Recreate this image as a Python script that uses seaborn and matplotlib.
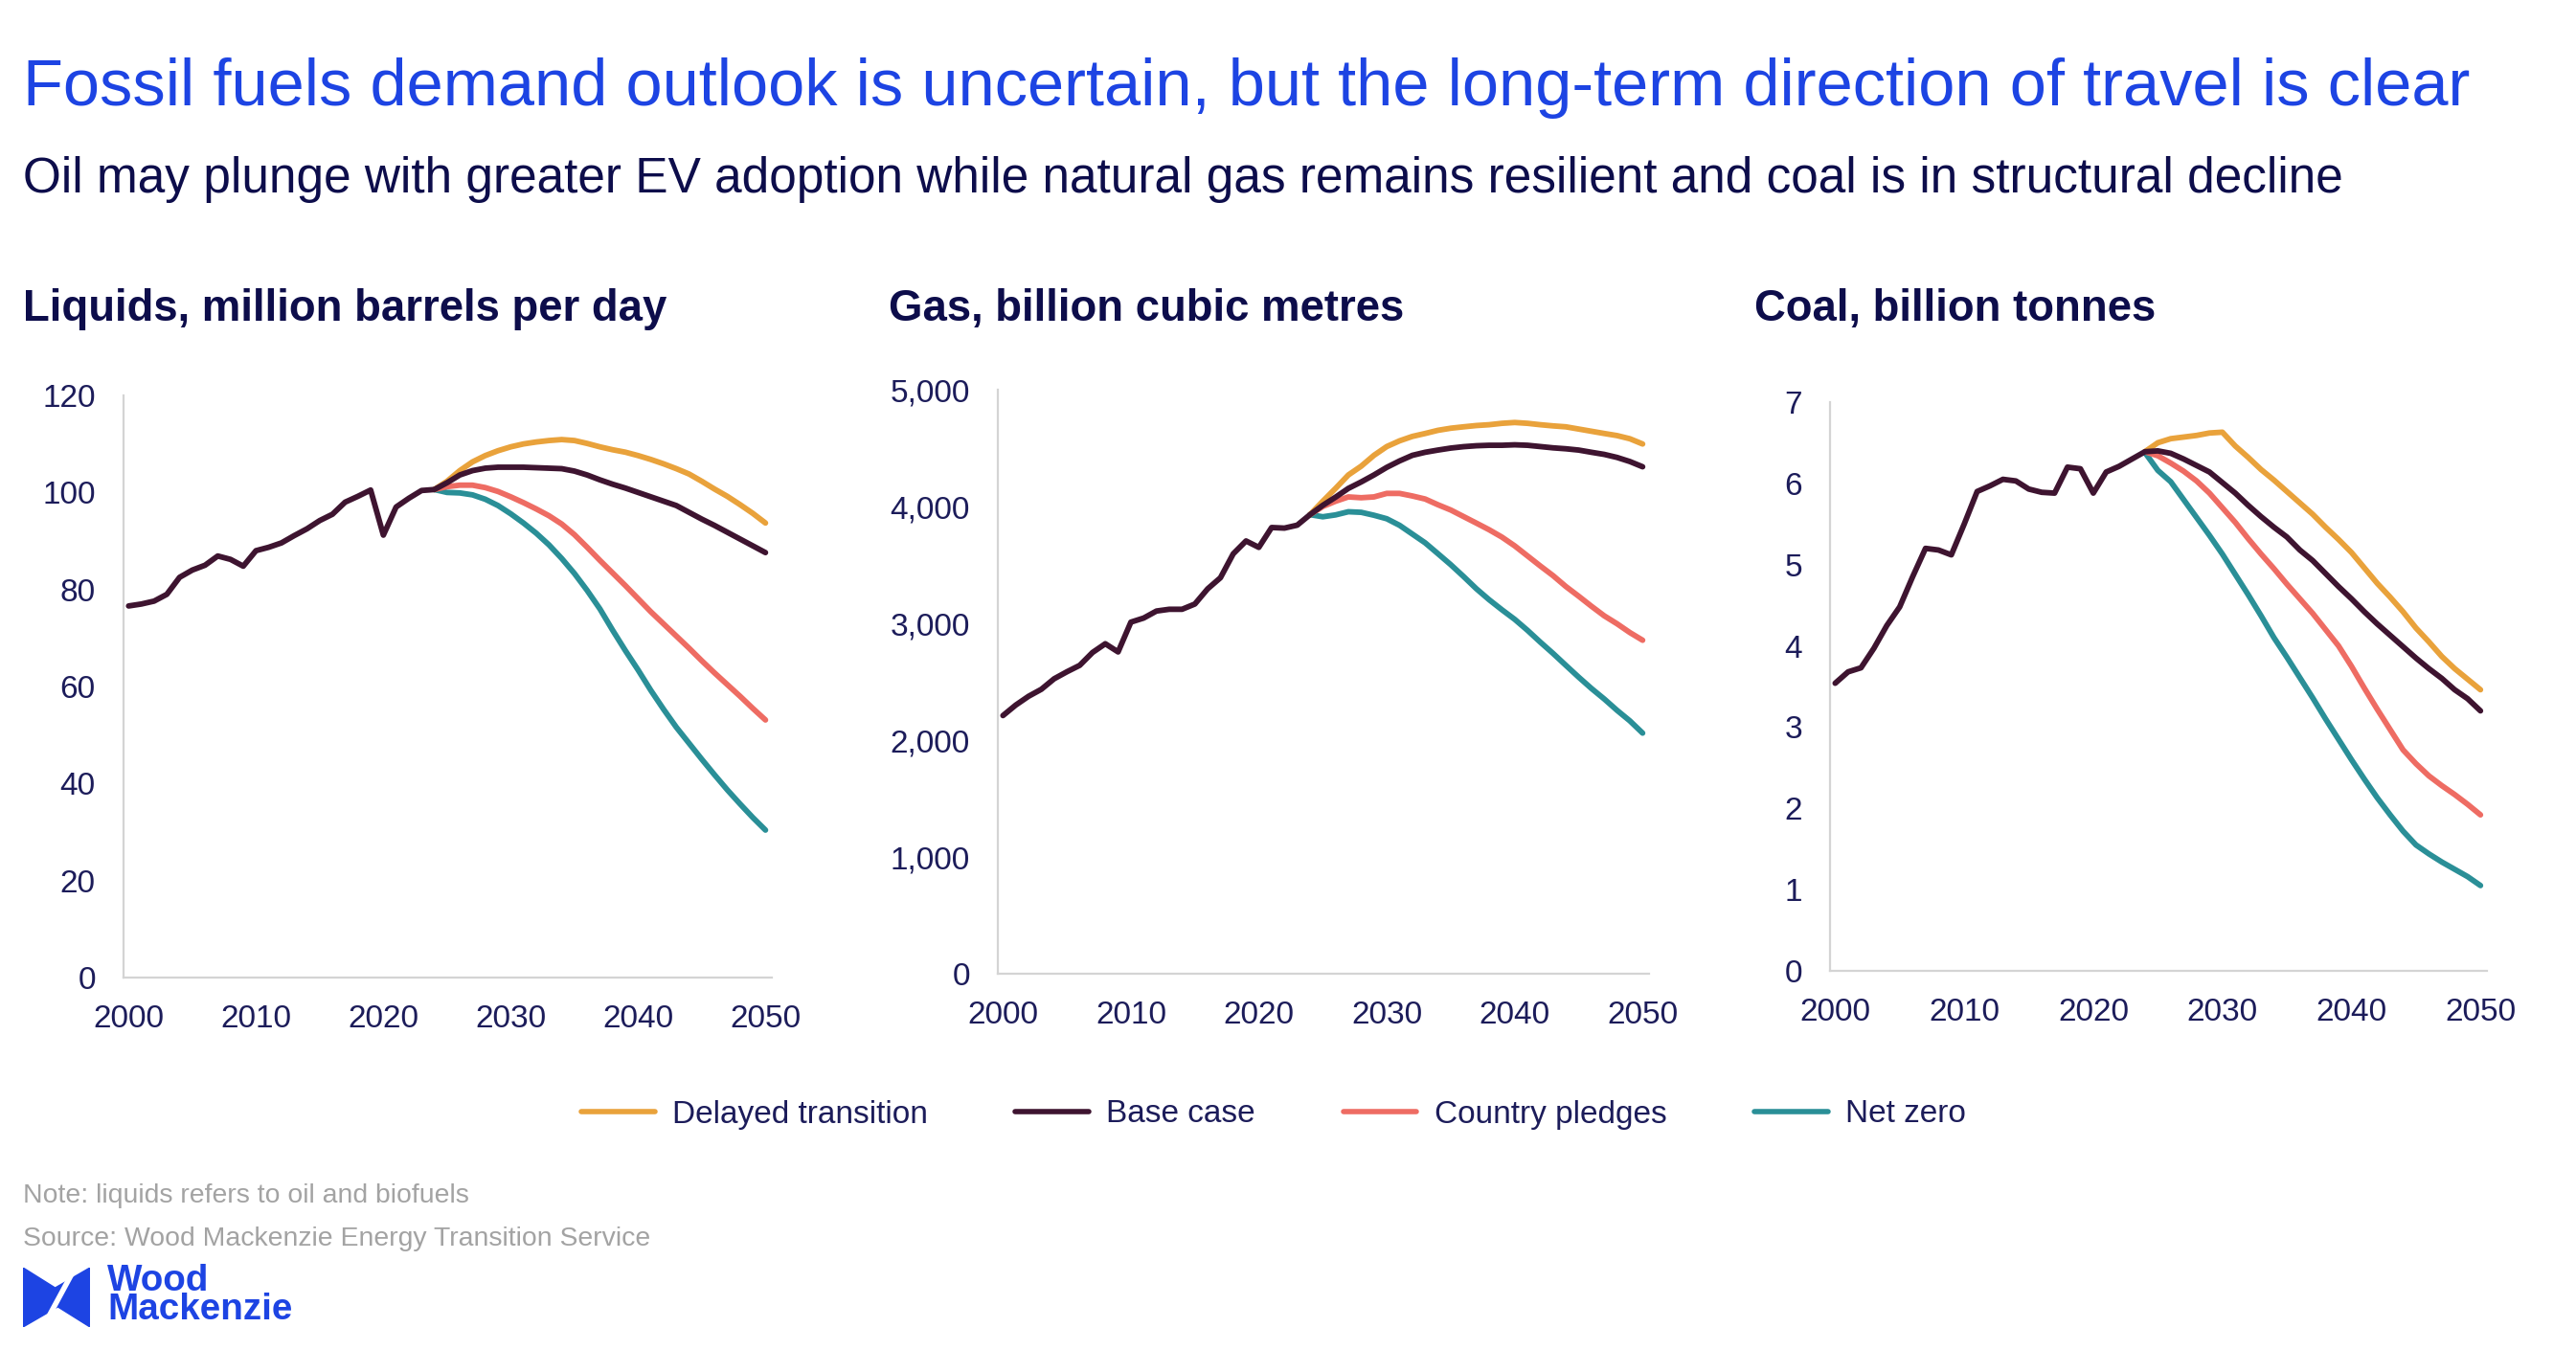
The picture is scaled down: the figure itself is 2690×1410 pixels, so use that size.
import numpy as np
import pandas as pd
import matplotlib
matplotlib.use("Agg")
import matplotlib.pyplot as plt
import seaborn as sns
from matplotlib.lines import Line2D
from matplotlib.patches import Polygon
from matplotlib.ticker import FuncFormatter

# ---------------- data ----------------
years_all = list(range(2000, 2051))
years_proj = list(range(2024, 2051))

scenarios = ["Delayed transition", "Base case", "Country pledges", "Net zero"]
colors = ["#E9A23B", "#3E1430", "#EE6C63", "#2A8F97"]

liq_base = [76.6, 77.0, 77.6, 79.0, 82.5, 84.0, 85.0, 86.9, 86.2, 84.8,
            88.0, 88.7, 89.6, 91.1, 92.5, 94.2, 95.5, 98.0, 99.2, 100.5,
            91.2, 97.0, 98.8, 100.4, 100.6, 102.0, 103.6, 104.5, 105.0, 105.2,
            105.2, 105.2, 105.1, 105.0, 104.9, 104.4, 103.6, 102.6, 101.7, 100.9,
            100.0, 99.1, 98.2, 97.3, 95.9, 94.5, 93.2, 91.8, 90.4, 89.0, 87.6]
liq_delayed = [100.6, 102.3, 104.5, 106.3, 107.6, 108.6, 109.4, 110.0, 110.4, 110.7,
               110.9, 110.7, 110.1, 109.4, 108.8, 108.3, 107.6, 106.8, 105.9, 104.9,
               103.8, 102.3, 100.7, 99.2, 97.5, 95.7, 93.7]
liq_pledges = [100.6, 101.2, 101.5, 101.5, 101.0, 100.2, 99.1, 97.9, 96.6, 95.2,
               93.5, 91.3, 88.7, 86.0, 83.4, 80.8, 78.1, 75.4, 72.9, 70.4,
               67.9, 65.3, 62.8, 60.4, 58.0, 55.5, 53.1]
liq_netzero = [100.6, 100.0, 99.9, 99.5, 98.6, 97.3, 95.6, 93.7, 91.6, 89.2,
               86.4, 83.3, 79.8, 76.0, 71.6, 67.4, 63.4, 59.2, 55.3, 51.6,
               48.3, 45.0, 41.8, 38.7, 35.8, 33.0, 30.4]

gas_base = [2210, 2300, 2375, 2435, 2525, 2585, 2640, 2750, 2825, 2755,
            3010, 3045, 3105, 3120, 3120, 3165, 3295, 3390, 3595, 3705,
            3650, 3820, 3815, 3840, 3930, 4010, 4080, 4155, 4210, 4270,
            4335, 4390, 4438, 4464, 4483, 4500, 4512, 4520, 4524, 4524,
            4528, 4524, 4513, 4502, 4494, 4483, 4464, 4446, 4420, 4385, 4340]
gas_delayed = [3930, 4045, 4155, 4270, 4345, 4438, 4513, 4562, 4600, 4625,
               4652, 4670, 4682, 4693, 4700, 4712, 4719, 4712, 4700, 4690,
               4682, 4663, 4644, 4625, 4607, 4580, 4535]
gas_pledges = [3930, 4000, 4045, 4082, 4075, 4082, 4112, 4112, 4090, 4064,
               4015, 3970, 3914, 3858, 3801, 3738, 3663, 3577, 3491, 3408,
               3315, 3232, 3146, 3064, 2996, 2921, 2855]
gas_netzero = [3930, 3912, 3928, 3955, 3950, 3925, 3895, 3839, 3764, 3689,
               3596, 3502, 3401, 3296, 3202, 3116, 3034, 2940, 2839, 2742,
               2640, 2539, 2442, 2352, 2255, 2165, 2060]

coal_base = [3.54, 3.68, 3.73, 3.97, 4.25, 4.48, 4.85, 5.20, 5.18, 5.12,
             5.50, 5.90, 5.97, 6.05, 6.03, 5.93, 5.89, 5.88, 6.20, 6.18,
             5.88, 6.14, 6.21, 6.30, 6.39, 6.40, 6.37, 6.30, 6.22, 6.14,
             6.01, 5.88, 5.73, 5.59, 5.46, 5.34, 5.18, 5.05, 4.89, 4.73,
             4.58, 4.42, 4.27, 4.13, 3.99, 3.85, 3.72, 3.60, 3.46, 3.35, 3.20]
coal_delayed = [6.39, 6.50, 6.55, 6.57, 6.59, 6.62, 6.63, 6.46, 6.32, 6.17,
                6.04, 5.90, 5.76, 5.62, 5.46, 5.31, 5.15, 4.96, 4.77, 4.60,
                4.42, 4.22, 4.05, 3.87, 3.72, 3.59, 3.46]
coal_pledges = [6.39, 6.34, 6.25, 6.15, 6.03, 5.88, 5.70, 5.52, 5.32, 5.13,
                4.95, 4.76, 4.58, 4.40, 4.20, 4.00, 3.75, 3.48, 3.22, 2.97,
                2.72, 2.55, 2.40, 2.28, 2.17, 2.05, 1.92]
coal_netzero = [6.38, 6.16, 6.02, 5.80, 5.58, 5.36, 5.13, 4.88, 4.63, 4.37,
                4.10, 3.86, 3.61, 3.36, 3.10, 2.85, 2.60, 2.36, 2.13, 1.92,
                1.72, 1.55, 1.44, 1.34, 1.25, 1.16, 1.05]

panel_titles = ["Liquids, million barrels per day", "Gas, billion cubic metres",
                "Coal, billion tonnes"]
y_ticks = [[0, 20, 40, 60, 80, 100, 120],
           [0, 1000, 2000, 3000, 4000, 5000],
           [0, 1, 2, 3, 4, 5, 6, 7]]
x_ticks = [2000, 2010, 2020, 2030, 2040, 2050]

title = "Fossil fuels demand outlook is uncertain, but the long-term direction of travel is clear"
subtitle = ("Oil may plunge with greater EV adoption while natural gas remains resilient "
            "and coal is in structural decline")
note = "Note: liquids refers to oil and biofuels"
source = "Source: Wood Mackenzie Energy Transition Service"


def make_df(base, delayed, pledges, netzero):
    frames = [
        pd.DataFrame({"year": years_all, "value": base, "scenario": "Base case"}),
        pd.DataFrame({"year": years_proj, "value": delayed, "scenario": "Delayed transition"}),
        pd.DataFrame({"year": years_proj, "value": pledges, "scenario": "Country pledges"}),
        pd.DataFrame({"year": years_proj, "value": netzero, "scenario": "Net zero"}),
    ]
    return pd.concat(frames, ignore_index=True)


dfs = [make_df(liq_base, liq_delayed, liq_pledges, liq_netzero),
       make_df(gas_base, gas_delayed, gas_pledges, gas_netzero),
       make_df(coal_base, coal_delayed, coal_pledges, coal_netzero)]

# ---------------- style ----------------
sns.set_theme(style="white")
plt.rcParams["font.family"] = ["Liberation Sans", "DejaVu Sans"]

NAVY = "#1c1c5a"
TITLE_NAVY = "#0d0d4b"
BLUE = "#1d44e3"
GRAY = "#a3a3a3"
SPINE = "#d4d4d4"

W, H = 2690, 1410
fig = plt.figure(figsize=(W / 100, H / 100), dpi=100)
fig.patch.set_facecolor("white")

palette = dict(zip(scenarios, colors))
hue_order = ["Net zero", "Country pledges", "Delayed transition", "Base case"]

# axes boxes in pixels: left, right, top, bottom
boxes = [(129, 806, 413, 1021), (1042, 1722, 407, 1017), (1911, 2597, 420, 1014)]
title_x = [24, 928, 1832]
title_w = [674, 540, 420]

panel_texts = []
for i, (df, (l, r, t, b)) in enumerate(zip(dfs, boxes)):
    ax = fig.add_axes([l / W, 1 - b / H, (r - l) / W, (b - t) / H])
    sns.lineplot(data=df, x="year", y="value", hue="scenario", hue_order=hue_order,
                 palette=palette, linewidth=4.2, legend=False, ax=ax,
                 estimator=None, solid_capstyle="round")
    ax.set_xlim(1999.6, 2050.5)
    ax.set_ylim(y_ticks[i][0], y_ticks[i][-1])
    ax.set_xticks(x_ticks)
    ax.set_yticks(y_ticks[i])
    ax.set_xlabel("")
    ax.set_ylabel("")
    if i == 1:
        ax.yaxis.set_major_formatter(FuncFormatter(lambda v, p: f"{v:,.0f}"))
    for s in ["top", "right"]:
        ax.spines[s].set_visible(False)
    for s in ["left", "bottom"]:
        ax.spines[s].set_color(SPINE)
        ax.spines[s].set_linewidth(1.6)
    ax.tick_params(axis="both", length=0, labelsize=24, labelcolor=NAVY)
    ax.tick_params(axis="y", pad=21)
    ax.tick_params(axis="x", pad=20)
    ax.set_facecolor("white")
    pt = fig.text(title_x[i] / W, 1 - 323 / H, panel_titles[i], fontsize=33,
                  fontweight="bold", color=TITLE_NAVY, ha="left", va="center")
    panel_texts.append(pt)

# titles
t_title = fig.text(24 / W, 1 - 92 / H, title, fontsize=46, color=BLUE,
                   ha="left", va="center")
t_sub = fig.text(24 / W, 1 - 188 / H, subtitle, fontsize=34, color=TITLE_NAVY,
                 ha="left", va="center")
t_note = fig.text(24 / W, 1 - 1249 / H, note, fontsize=18, color=GRAY,
                  ha="left", va="center")
t_src = fig.text(24 / W, 1 - 1294 / H, source, fontsize=18, color=GRAY,
                 ha="left", va="center")

# legend
handles = [Line2D([0], [0], color=c, lw=4) for c in colors]
leg = fig.legend(handles, scenarios, loc="center", bbox_to_anchor=(1330 / W, 1 - 1164 / H),
                 ncol=4, frameon=False, fontsize=24, handlelength=2.3,
                 handletextpad=0.55, columnspacing=2.75, labelcolor=NAVY)

# logo text
t_logo = fig.text(112 / W, 1 - 1353 / H, "Wood\nMackenzie", fontsize=28, color=BLUE,
                  fontweight="bold", ha="left", va="center", linespacing=0.82)

# fit text widths to the reference
fig.canvas.draw()
rend = fig.canvas.get_renderer()
fits = [(t_title, 2554), (t_sub, 2426), (t_note, 465), (t_src, 654), (t_logo, 193)]
fits += list(zip(panel_texts, title_w))
for txt, target in fits:
    w = txt.get_window_extent(rend).width
    txt.set_fontsize(txt.get_fontsize() * target / w)

# logo mark
lax = fig.add_axes([24 / W, 1 - 1386 / H, 70 / W, 62 / H])
lax.set_xlim(0, 1)
lax.set_ylim(0, 1)
lax.axis("off")
lax.add_patch(Polygon([(0, 1), (0.48, 0.66), (1, 1), (1, 0), (0.52, 0.34), (0, 0)],
                      closed=True, color=BLUE))
lax.plot([0.74, 0.30], [0.92, 0.0], color="white", lw=4, solid_capstyle="butt")

fig.savefig("out.png", dpi=100, facecolor="white")
